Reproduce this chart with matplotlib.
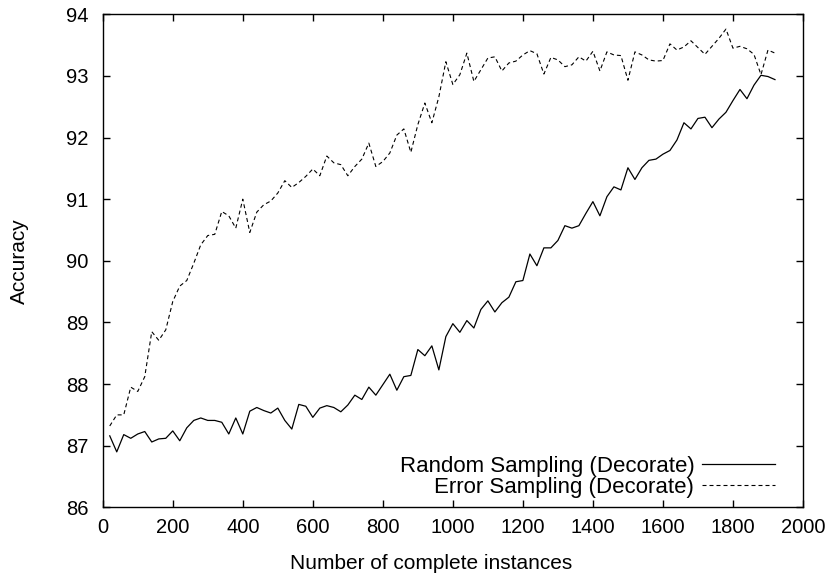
import matplotlib
matplotlib.use('Agg')
import matplotlib.pyplot as plt

# Font and general style (gnuplot-like look).
plt.rcParams['font.family'] = ['Liberation Sans', 'DejaVu Sans']
plt.rcParams['font.size'] = 14.5

# Number of complete instances (x positions of the samples).
instances = [20, 40, 60, 80, 100, 120, 140, 160, 180, 200,
             220, 240, 260, 280, 300, 320, 340, 360, 380, 400,
             420, 440, 460, 480, 500, 520, 540, 560, 580, 600,
             620, 640, 660, 680, 700, 720, 740, 760, 780, 800,
             820, 840, 860, 880, 900, 920, 940, 960, 980, 1000,
             1020, 1040, 1060, 1080, 1100, 1120, 1140, 1160, 1180, 1200,
             1220, 1240, 1260, 1280, 1300, 1320, 1340, 1360, 1380, 1400,
             1420, 1440, 1460, 1480, 1500, 1520, 1540, 1560, 1580, 1600,
             1620, 1640, 1660, 1680, 1700, 1720, 1740, 1760, 1780, 1800,
             1820, 1840, 1860, 1880, 1900, 1920]

# Accuracy for random sampling (Decorate).
random_acc = [87.16, 86.90, 87.18, 87.12, 87.19, 87.23, 87.06, 87.11, 87.12, 87.24,
              87.08, 87.29, 87.41, 87.45, 87.41, 87.41, 87.38, 87.19, 87.45, 87.19,
              87.56, 87.62, 87.57, 87.53, 87.61, 87.41, 87.27, 87.67, 87.64, 87.46,
              87.61, 87.65, 87.62, 87.55, 87.66, 87.82, 87.75, 87.95, 87.82, 87.99,
              88.16, 87.90, 88.12, 88.14, 88.56, 88.46, 88.62, 88.23, 88.77, 88.98,
              88.84, 89.03, 88.91, 89.21, 89.35, 89.17, 89.32, 89.41, 89.66, 89.68,
              90.11, 89.92, 90.21, 90.21, 90.33, 90.57, 90.53, 90.57, 90.77, 90.96,
              90.73, 91.04, 91.20, 91.15, 91.51, 91.32, 91.51, 91.63, 91.65, 91.73,
              91.79, 91.96, 92.24, 92.14, 92.31, 92.33, 92.16, 92.30, 92.41, 92.60,
              92.78, 92.63, 92.85, 93.01, 92.99, 92.94]

# Accuracy for error sampling (Decorate).
error_acc = [87.32, 87.50, 87.50, 87.95, 87.88, 88.12, 88.85, 88.71, 88.88, 89.34,
             89.59, 89.68, 89.96, 90.26, 90.41, 90.43, 90.80, 90.73, 90.53, 91.00,
             90.46, 90.79, 90.91, 90.97, 91.10, 91.30, 91.19, 91.27, 91.37, 91.49,
             91.38, 91.70, 91.59, 91.56, 91.38, 91.53, 91.65, 91.91, 91.53, 91.61,
             91.75, 92.04, 92.14, 91.76, 92.21, 92.56, 92.24, 92.66, 93.23, 92.86,
             93.02, 93.37, 92.91, 93.10, 93.29, 93.31, 93.08, 93.21, 93.24, 93.34,
             93.41, 93.36, 93.03, 93.30, 93.26, 93.15, 93.18, 93.31, 93.24, 93.40,
             93.08, 93.39, 93.34, 93.33, 92.93, 93.39, 93.34, 93.26, 93.24, 93.25,
             93.52, 93.42, 93.47, 93.57, 93.46, 93.35, 93.48, 93.61, 93.76, 93.45,
             93.48, 93.44, 93.35, 93.02, 93.42, 93.37]

labels = ['Random Sampling (Decorate)', 'Error Sampling (Decorate)']
x_ticks = [0, 200, 400, 600, 800, 1000, 1200, 1400, 1600, 1800, 2000]
y_ticks = [86, 87, 88, 89, 90, 91, 92, 93, 94]

fig = plt.figure(figsize=(8.36, 5.83), dpi=100)
ax = fig.add_axes([0.1229, 0.1298, 0.8376, 0.8457])

ax.plot(instances, random_acc, color='black', linewidth=0.9, label=labels[0])
ax.plot(instances, error_acc, color='black', linewidth=0.8,
        linestyle=(0, (3.6, 2.7)), label=labels[1])

ax.set_xlim(0, 2000)
ax.set_ylim(86, 94)
ax.set_xticks(x_ticks)
ax.set_yticks(y_ticks)
ax.tick_params(direction='in', length=5, width=1.0, top=True, right=True)
ax.tick_params(axis='x', pad=8)
ax.tick_params(axis='y', pad=10)
for s in ax.spines.values():
    s.set_linewidth(1.0)

ax.set_xlabel('Number of complete instances', fontsize=15)
ax.set_ylabel('Accuracy', fontsize=15)
ax.xaxis.set_label_coords(0.469, -0.095)
ax.yaxis.set_label_coords(-0.105, 0.5)

# gnuplot-style key: right-aligned text, sample line on the right.
leg = ax.legend(loc='lower right', bbox_to_anchor=(775 / 836, 1 - 498 / 583),
                bbox_transform=fig.transFigure, frameon=False, markerfirst=False,
                fontsize=16, handlelength=3.3, handletextpad=0.33,
                labelspacing=0.0, borderpad=0, borderaxespad=0)
for col in leg._legend_handle_box.get_children():
    col.align = 'right'

fig.savefig('out.png', dpi=100)
